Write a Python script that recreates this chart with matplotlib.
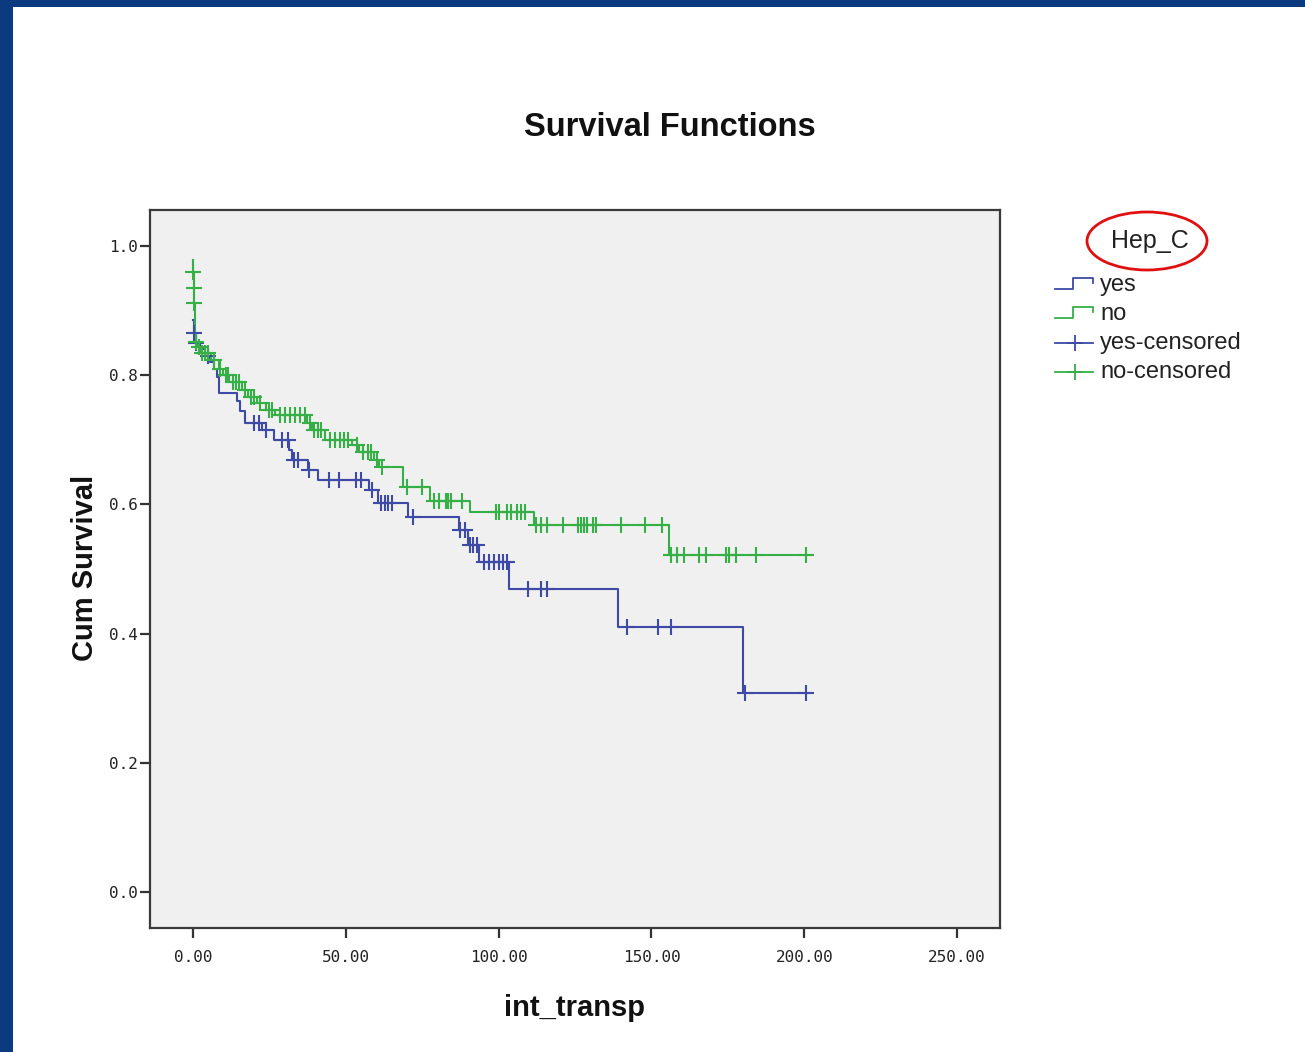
import numpy as np
import matplotlib
matplotlib.use('Agg')
import matplotlib.pyplot as plt
from matplotlib.lines import Line2D
from matplotlib.patches import Ellipse, Rectangle

# Kaplan-Meier step levels: time at which each level starts, and survival value
YES_T = [0, 0.4, 1.0, 2.5, 4, 5.5, 7, 7.8, 8.5, 14.4, 15.5, 17, 22.5, 26.4, 31.5,
         32.5, 37.6, 41, 57.5, 60.5, 70.3, 87, 90, 93.5, 103.5, 139, 180]
YES_S = [0.885, 0.865, 0.85, 0.84, 0.83, 0.82, 0.81, 0.797, 0.773, 0.76, 0.745,
         0.726, 0.715, 0.70, 0.684, 0.669, 0.653, 0.638, 0.622, 0.602, 0.58, 0.56,
         0.537, 0.511, 0.469, 0.41, 0.308]
YES_END = 201

NO_T = [0, 0.15, 0.3, 0.45, 0.6, 0.8, 1.0, 1.5, 2.5, 6, 8.5, 10, 12, 16, 18, 21,
        24, 27, 37.5, 39, 43.3, 52, 54.5, 59.4, 61, 68.6, 77.5, 90.5, 111.5, 155.6]
NO_S = [0.978, 0.96, 0.935, 0.912, 0.88, 0.865, 0.852, 0.844, 0.834, 0.823, 0.81,
        0.80, 0.79, 0.777, 0.766, 0.757, 0.746, 0.738, 0.726, 0.715, 0.70, 0.692,
        0.681, 0.669, 0.658, 0.627, 0.605, 0.589, 0.568, 0.522]
NO_END = 202.6

# censoring times
YES_CENS = [0.5, 1.2, 5, 20, 21.6, 24, 29.3, 31, 33.2, 34.4, 37.9, 44.6, 47.9,
            53.4, 55, 58.5, 61.7, 62.8, 63.8, 65, 72, 87.5, 89, 90.5, 91.7, 92.8,
            95.3, 97, 98.6, 100, 101.3, 102.8, 109.5, 114, 116, 142, 152, 156.5,
            180.5, 200.6]
NO_CENS = [0.2, 0.35, 0.5, 1.2, 2, 3, 4, 5, 7, 9, 11, 11.5, 13, 14, 15, 17, 19,
           20, 22, 25, 26, 28.4, 30, 31.7, 33.3, 35, 36.6, 38.4, 39.5, 41, 42, 45,
           46.5, 48, 49.6, 50.7, 53.6, 55.6, 57.2, 58.3, 60.4, 62, 70, 75, 79,
           80.6, 82.7, 83.3, 84.4, 88, 99.3, 100.3, 102.6, 104.2, 105.9, 107.5,
           108.5, 112.4, 114, 116, 121, 126, 127, 128, 129, 131, 132, 140, 148,
           153.6, 156.5, 158.5, 160.8, 165.7, 168, 174.5, 175.5, 177.8, 184.3,
           200.7]

GROUPS = ['yes', 'no']
COLORS = {'yes': '#3d4ba6', 'no': '#36b046'}

Y_TICKS = [0.0, 0.2, 0.4, 0.6, 0.8, 1.0]
X_TICKS = [0, 50, 100, 150, 200, 250]


def step_level(times, surv, t):
    idx = np.searchsorted(times, t, side='right') - 1
    return np.asarray(surv)[idx]


def draw_group(ax, times, surv, t_end, cens, color):
    times = np.asarray(times, dtype=float)
    surv = np.asarray(surv, dtype=float)
    xs = np.append(times, t_end)
    ys = np.append(surv, surv[-1])
    ax.step(xs, ys, where='post', color=color, lw=1.5, zorder=3)
    cy = step_level(times, surv, np.asarray(cens))
    ax.plot(cens, cy, linestyle='none', marker='+', ms=11, mew=1.5,
            color=color, zorder=4)


fig = plt.figure(figsize=(13.05, 10.52), dpi=100)
fig.patch.set_facecolor('white')

# slide frame
fig.add_artist(Rectangle((0, 1 - 7 / 1052), 1, 7 / 1052, transform=fig.transFigure,
                         facecolor='#0b3a7e', edgecolor='none'))
fig.add_artist(Rectangle((0, 0), 13 / 1305, 1, transform=fig.transFigure,
                         facecolor='#0b3a7e', edgecolor='none'))

ax = fig.add_axes([150 / 1305, 1 - 928 / 1052, 850 / 1305, 718 / 1052])
ax.set_facecolor('#f0f0f0')

draw_group(ax, YES_T, YES_S, YES_END, YES_CENS, COLORS['yes'])
draw_group(ax, NO_T, NO_S, NO_END, NO_CENS, COLORS['no'])

ax.set_xlim(-14, 264)
ax.set_ylim(-0.056, 1.056)
ax.set_xticks(X_TICKS)
ax.set_xticklabels([f'{v:.2f}' for v in X_TICKS])
ax.set_yticks(Y_TICKS)
ax.set_yticklabels([f'{v:.1f}' for v in Y_TICKS])
ax.tick_params(axis='both', direction='out', length=7, width=1.6, color='#333333',
               labelsize=11.5, labelcolor='#222222')
for lbl in ax.get_xticklabels() + ax.get_yticklabels():
    lbl.set_family('DejaVu Sans Mono')
ax.tick_params(axis='x', pad=9)
ax.tick_params(axis='y', pad=2)
for sp in ax.spines.values():
    sp.set_color('#3a3a3a')
    sp.set_linewidth(1.6)

fig.text(670 / 1305, 1 - 127 / 1052, 'Survival Functions', ha='center', va='center',
         family='Liberation Sans', fontweight='bold', fontsize=23.5, color='#111111')
fig.text(575 / 1305, 1 - 1008 / 1052, 'int_transp', ha='center', va='center',
         family='Liberation Sans', fontweight='bold', fontsize=21, color='#111111')
fig.text(85 / 1305, 1 - 568 / 1052, 'Cum Survival', ha='center', va='center',
         rotation=90, family='Liberation Sans', fontweight='bold', fontsize=21,
         color='#111111')

# legend, drawn by hand in figure pixels
def fx(px):
    return px / 1305


def fy(py):
    return 1 - py / 1052


fig.text(fx(1150), fy(241), 'Hep_C', ha='center', va='center',
         family='Liberation Sans', fontsize=18, color='#222222')
fig.add_artist(Ellipse((fx(1147), fy(241)), 120 / 1305, 58 / 1052,
                       transform=fig.transFigure, fill=False, edgecolor='#e01010',
                       lw=2))

rows = [285, 314, 343, 372]
for grp, py in zip(GROUPS, rows[:2]):
    base = py + 4
    top = py - 7
    fig.add_artist(Line2D([fx(1055), fx(1073), fx(1073), fx(1093), fx(1093)],
                          [fy(base), fy(base), fy(top), fy(top), fy(py - 2)],
                          transform=fig.transFigure, color=COLORS[grp], lw=1.3))
    fig.text(fx(1100), fy(py), grp, ha='left', va='center',
             family='Liberation Sans', fontsize=17, color='#222222')

for grp, py in zip(GROUPS, rows[2:]):
    fig.add_artist(Line2D([fx(1055), fx(1093)], [fy(py), fy(py)],
                          transform=fig.transFigure, color=COLORS[grp], lw=1.3))
    fig.add_artist(Line2D([fx(1075)], [fy(py)], transform=fig.transFigure,
                          color=COLORS[grp], marker='+', ms=12, mew=1.3,
                          linestyle='none'))
    fig.text(fx(1100), fy(py), f'{grp}-censored', ha='left', va='center',
             family='Liberation Sans', fontsize=17, color='#222222')

fig.savefig('out.png', dpi=100)
